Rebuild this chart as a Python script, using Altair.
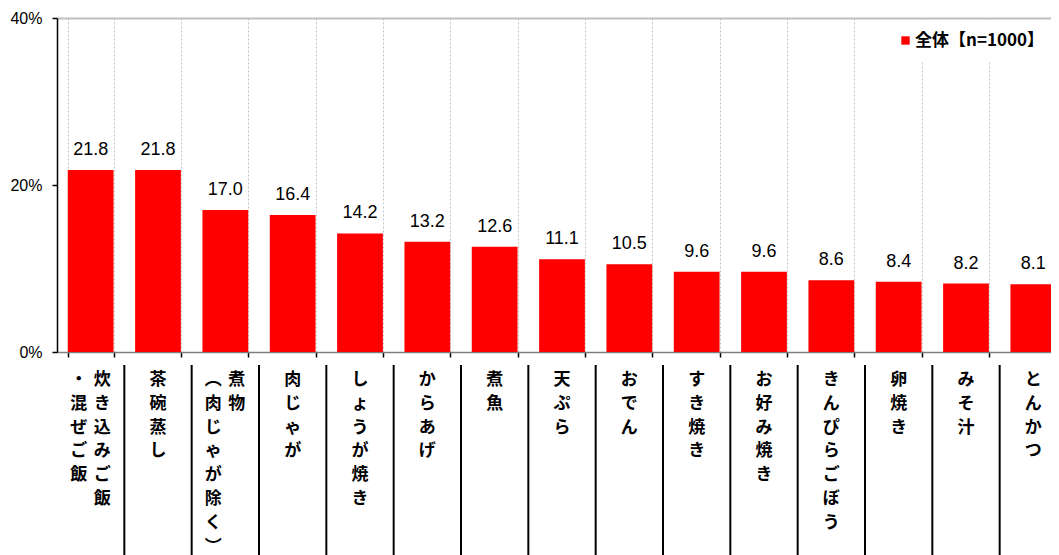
import altair as alt
import pandas as pd

categories = ["炊き込みご飯・混ぜご飯", "茶碗蒸し", "煮物（肉じゃが除く）", "肉じゃが", "しょうが焼き",
              "からあげ", "煮魚", "天ぷら", "おでん", "すき焼き", "お好み焼き", "きんぴらごぼう",
              "卵焼き", "みそ汁", "とんかつ"]
values = [21.8, 21.8, 17.0, 16.4, 14.2, 13.2, 12.6, 11.1, 10.5, 9.6, 9.6, 8.6, 8.4, 8.2, 8.1]
# vertical label columns (right column first, left column second)
label_col1 = ["炊き込みご飯", "茶碗蒸し", "煮物", "肉じゃが", "しょうが焼き", "からあげ", "煮魚",
              "天ぷら", "おでん", "すき焼き", "お好み焼き", "きんぴらごぼう", "卵焼き", "みそ汁", "とんかつ"]
label_col2 = ["・混ぜご飯", "", "︵肉じゃが除く︶", "", "", "", "", "", "", "", "", "", "", "", ""]
series_name = "全体【n=1000】"
y_ticks = [0, 20, 40]

PLOT_W = 1010
STEP = PLOT_W / len(categories)

df = pd.DataFrame({
    "cat": categories,
    "value": values,
    "col1": ["\n".join(s) for s in label_col1],
    "col2": ["\n".join(s) for s in label_col2],
    "two": [len(s) > 0 for s in label_col2],
    "idx": list(range(len(categories))),
    "series": series_name,
})

xenc = alt.X("cat:N", sort=categories,
             scale=alt.Scale(paddingInner=0.32, paddingOuter=0.16),
             axis=alt.Axis(labels=False, title=None, tickBand="extent", grid=True,
                           gridColor="#c4c4c4", gridDash=[2, 2], gridWidth=1,
                           domainColor="#7f7f7f", domainWidth=1.5,
                           tickColor="black", tickSize=5, tickWidth=1.5))

yenc = alt.Y("value:Q", scale=alt.Scale(domain=[0, 40]),
             axis=alt.Axis(values=y_ticks, labelExpr="datum.value + '%'", title=None,
                           grid=True,
                           gridOpacity={"condition": {"test": "datum.value === 40", "value": 1}, "value": 0},
                           gridColor="#c0c0c0", gridWidth=2,
                           domainColor="black", domainWidth=1.5,
                           tickColor="black", tickSize=5, tickWidth=1.5,
                           labelPadding=10, labelFontSize=16, labelFont="Liberation Sans",
                           labelColor="black"))

base = alt.Chart(df)

bars = base.mark_bar().encode(
    x=xenc, y=yenc,
    color=alt.Color("series:N", scale=alt.Scale(range=["#ff0000"]),
                    legend=alt.Legend(title=None, orient="none", legendX=828, legendY=2,
                                      symbolType="square", symbolSize=70, symbolStrokeWidth=0,
                                      labelFont="Noto Sans CJK JP", labelFontWeight="bold",
                                      labelFontSize=17, labelColor="black", fillColor="white",
                                      padding=12, labelOffset=1, labelLimit=300)),
)

vals = base.mark_text(baseline="alphabetic", dy=-15, fontSize=18, font="Liberation Sans",
                      color="black").encode(
    x=alt.X("cat:N", sort=categories), y=alt.Y("value:Q"),
    text=alt.Text("value:Q", format=".1f"),
)

lab_kw = dict(align="center", baseline="top", lineBreak="\n", lineHeight=23.8,
              font="Noto Sans CJK JP", fontWeight="bold", fontSize=17, color="black")

lab_single = base.transform_filter("!datum.two").mark_text(**lab_kw).encode(
    x=alt.X("cat:N", sort=categories), y=alt.value(354), text="col1:N")
lab_right = base.transform_filter("datum.two").mark_text(dx=11.5, **lab_kw).encode(
    x=alt.X("cat:N", sort=categories), y=alt.value(354), text="col1:N")
lab_left = base.transform_filter("datum.two").mark_text(dx=-12, **lab_kw).encode(
    x=alt.X("cat:N", sort=categories), y=alt.value(354), text="col2:N")

seps = base.transform_filter("datum.idx > 0").mark_rule(
    color="black", strokeWidth=2, xOffset=-STEP / 2).encode(
    x=alt.X("cat:N", sort=categories), y=alt.value(347), y2=alt.value(540))

chart = alt.layer(bars, vals, lab_single, lab_right, lab_left, seps).properties(
    width=PLOT_W, height=334,
    padding={"left": 49, "top": 10, "right": -16, "bottom": 203},
    autosize=alt.AutoSizeParams(type="none"),
    background="white",
).configure_view(stroke=None)

chart.save("out.html", embed_options={"renderer": "svg", "actions": False})
